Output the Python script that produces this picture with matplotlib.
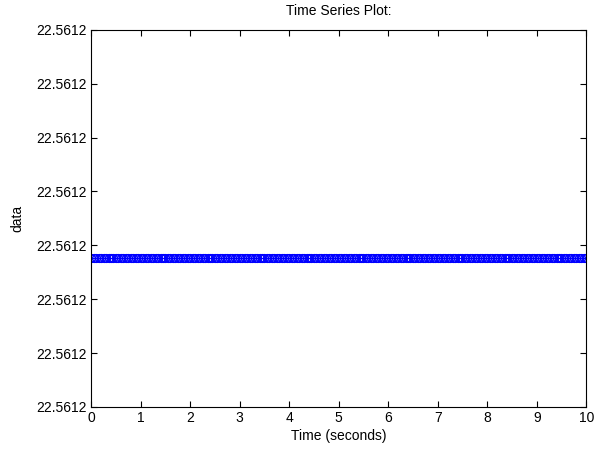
import numpy as np
import matplotlib
matplotlib.use("Agg")
import matplotlib.pyplot as plt

# -----------------------------------------------------
# DATA
# -----------------------------------------------------
time_s = np.arange(0, 10.001, 0.05)
data_value = 22.5612
data = [data_value] * len(time_s)

y_step = 2e-6
y_ticks = [data_value + (k - 2.76) * y_step for k in range(8)]
x_ticks = list(range(0, 11))

# -----------------------------------------------------
# PLOT
# -----------------------------------------------------
plt.rcParams["font.family"] = ["Liberation Sans", "DejaVu Sans"]
plt.rcParams["font.size"] = 10

fig = plt.figure(figsize=(6, 4.5), dpi=100)
ax = fig.add_axes([0.152, 0.0956, 0.825, 0.838])

ax.plot(time_s, data, color="#0000ff", marker="o", markersize=5.6,
        markeredgecolor="#0000ff", markerfacecolor="none",
        markeredgewidth=1.0, linewidth=1)

ax.set_xlim(0, 10)
ax.set_ylim(y_ticks[0], y_ticks[-1])
ax.set_xticks(x_ticks)
ax.set_yticks(y_ticks)
ax.set_yticklabels(["%.4f" % v for v in y_ticks])

ax.tick_params(direction="in", top=True, right=True, length=4.5, width=0.8, pad=3)
for sp in ax.spines.values():
    sp.set_linewidth(0.8)

ax.set_title("Time Series Plot:", fontsize=10, pad=11)
ax.set_xlabel("Time (seconds)", labelpad=3)
ax.set_ylabel("data", labelpad=9)

fig.savefig("out.png", dpi=100)
